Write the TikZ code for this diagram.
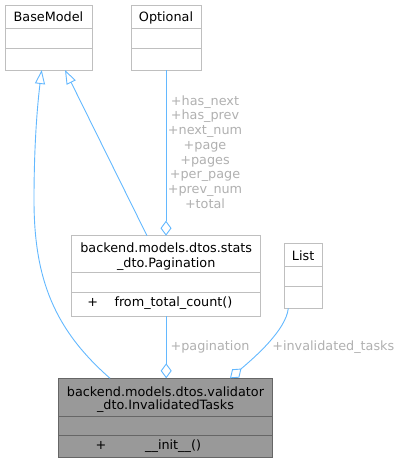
\documentclass[tikz,border=0pt]{standalone}
\usepackage{fontspec}
\setmainfont{DejaVu Sans}
\usetikzlibrary{arrows.meta,calc}
\definecolor{boxgray}{HTML}{BFBFBF}
\definecolor{edgeblue}{HTML}{63B8FF}
\definecolor{lblgray}{HTML}{B0B0B0}
\definecolor{invfill}{HTML}{999999}
\definecolor{invdraw}{HTML}{666666}
\begin{document}
\begin{tikzpicture}[x=1pt,y=-1pt,
  umlbox/.style={draw=boxgray,fill=white,line width=0.9pt,rectangle,inner sep=0pt,outer sep=0pt},
  invbox/.style={draw=invdraw,fill=invfill,line width=0.9pt,rectangle,inner sep=0pt,outer sep=0pt},
  sepline/.style={draw=boxgray,line width=0.9pt},
  invsep/.style={draw=invdraw,line width=0.9pt},
  txt/.style={inner sep=0pt,anchor=base,font=\fontsize{12.8}{14.76}\selectfont},
  lbl/.style={txt,text=lblgray},
  edge/.style={draw=edgeblue,line width=0.9pt},
  inherit/.style={edge,-{Triangle[open,length=14pt,width=10pt,fill=white]}},
  aggr/.style={edge,-{Diamond[open,length=15pt,width=11pt,fill=white]}}
]
\useasboundingbox (0,0) rectangle (403,464);

% BaseModel
\node[umlbox,minimum width=87pt,minimum height=65pt] (bm) at (48.5,37.5) {};
\draw[sepline] ([yshift=-23pt]bm.north west) -- ([yshift=-23pt]bm.north east);
\draw[sepline] ([yshift=-43pt]bm.north west) -- ([yshift=-43pt]bm.north east);
\node[txt] (bmt) at (48.5,21.7) {BaseModel};

% Optional
\node[umlbox,minimum width=70pt,minimum height=65pt] (opt) at (166,37.5) {};
\draw[sepline] ([yshift=-23pt]opt.north west) -- ([yshift=-23pt]opt.north east);
\draw[sepline] ([yshift=-43pt]opt.north west) -- ([yshift=-43pt]opt.north east);
\node[txt] (optt) at (166,21.7) {Optional};

% Pagination
\node[umlbox,minimum width=189pt,minimum height=80.3pt] (pag) at (166.2,275.85) {};
\draw[sepline] ([yshift=-37pt]pag.north west) -- ([yshift=-37pt]pag.north east);
\draw[sepline] ([yshift=-56.3pt]pag.north west) -- ([yshift=-56.3pt]pag.north east);
\node[txt] (pagt1) at (166.2,252.3) {backend.models.dtos.stats};
\node[txt] (pagt2) at (166.2,267) {\_dto.Pagination};
\node[txt] (pagplus) at (92.7,306.3) {+};
\node[txt,anchor=base west] (pagm) at (114.3,306.3) {from\_total\_count()};

% List
\node[umlbox,minimum width=37.7pt,minimum height=65pt] (lst) at (303.15,275.8) {};
\draw[sepline] ([yshift=-23.4pt]lst.north west) -- ([yshift=-23.4pt]lst.north east);
\draw[sepline] ([yshift=-43.4pt]lst.north west) -- ([yshift=-43.4pt]lst.north east);
\node[txt] (lstt) at (303.15,260) {List};

% InvalidatedTasks
\node[invbox,minimum width=214.4pt,minimum height=79.4pt] (inv) at (165.5,418) {};
\draw[invsep] ([yshift=-38.4pt]inv.north west) -- ([yshift=-38.4pt]inv.north east);
\draw[invsep] ([yshift=-57.4pt]inv.north west) -- ([yshift=-57.4pt]inv.north east);
\node[txt] (invt1) at (165.5,396) {backend.models.dtos.validator};
\node[txt] (invt2) at (165.5,409.5) {\_dto.InvalidatedTasks};
\node[txt] (invplus) at (101,449.5) {+};
\node[txt,anchor=base west] (invm) at (145,449.5) {\_\_init\_\_()};

% connectors
\draw[inherit] ([xshift=51.7pt]inv.north west) .. controls (55,330) and (34,280) .. (34,200)
   .. controls (34,140) and (38,100) .. ([xshift=36.7pt]bm.south west);
\draw[inherit] ([xshift=75.3pt]pag.north west) -- ([xshift=60pt]bm.south west);
\draw[aggr] (opt.south) -- (opt.south |- pag.north);
\draw[aggr] (pag.south) -- (pag.south |- inv.north);
\draw[aggr] ([xshift=4pt]lst.south west) .. controls (286,330) and (255,357) .. ([xshift=171.7pt]inv.north west);

% labels
\foreach \t [count=\i from 0] in {+has\_next,+has\_prev,+next\_num,+page,+pages,+per\_page,+prev\_num,+total}
  \node[lbl] (optl\i) at (205,{105+14.76*\i}) {\t};
\node[lbl] (lpag) at (210,350) {+pagination};
\node[lbl] (linv) at (333.3,350) {+invalidated\_tasks};
\end{tikzpicture}
\end{document}
